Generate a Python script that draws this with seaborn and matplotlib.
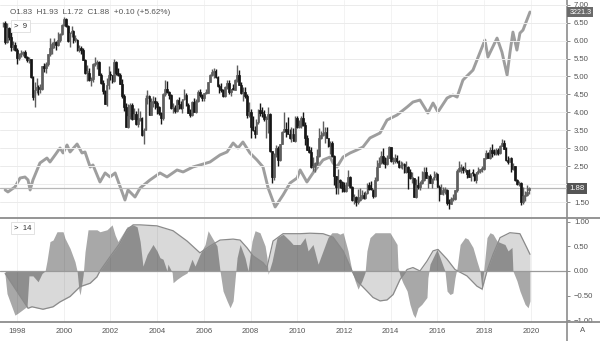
import numpy as np
import pandas as pd
import matplotlib
matplotlib.use("Agg")
import matplotlib.pyplot as plt
from matplotlib.lines import Line2D
import matplotlib.transforms as mtrans
import seaborn as sns

sns.set_style("white")
plt.rcParams["font.family"] = ["Liberation Sans", "DejaVu Sans"]

# ---------------- data ----------------
first_month = "1997-06-01"   # monthly candles, Jun 1997 .. Dec 2019

opens = [
    6.45, 6.50, 5.95, 6.34, 6.10, 5.83, 5.87,
    5.74, 5.51, 5.62, 5.65, 5.67, 5.55, 5.45, 5.49, 4.98, 4.42, 4.61, 4.71,
    4.65, 4.65, 5.29, 5.24, 5.35, 5.62, 5.78, 5.90, 5.97, 5.88, 6.02, 6.19,
    6.44, 6.60, 6.41, 6.00, 6.21, 6.27, 6.03, 6.03, 5.73, 5.80, 5.75, 5.47,
    5.11, 5.11, 4.90, 4.92, 5.34, 5.38, 5.41, 5.05, 4.83, 4.59, 4.23, 4.75,
    5.05, 5.03, 4.88, 5.40, 5.09, 5.04, 4.80, 4.46, 4.14, 3.60, 3.89, 4.21,
    3.82, 3.96, 3.69, 3.80, 3.84, 3.37, 3.52, 4.41, 4.46, 3.94, 4.29, 4.33,
    4.25, 4.14, 3.97, 3.84, 4.51, 4.65, 4.58, 4.48, 4.12, 4.12, 4.03, 4.35,
    4.22, 4.13, 4.36, 4.48, 4.20, 3.98, 3.92, 4.28, 4.02, 4.32, 4.56, 4.49,
    4.39, 4.53, 4.55, 4.85, 5.05, 5.12, 5.14, 4.98, 4.73, 4.63, 4.61, 4.46,
    4.70, 4.83, 4.56, 4.64, 4.62, 4.89, 5.03, 4.77, 4.53, 4.58, 4.47, 3.94,
    4.02, 3.59, 3.51, 3.41, 3.73, 4.06, 3.98, 3.95, 3.82, 3.82, 3.95, 2.92,
    2.21, 2.84, 3.00, 2.67, 3.12, 3.46, 3.53, 3.47, 3.40, 3.30, 3.39, 3.20,
    3.84, 3.59, 3.61, 3.83, 3.66, 3.29, 2.95, 2.91, 2.47, 2.51, 2.60, 2.79,
    3.29, 3.37, 3.42, 3.45, 3.29, 3.05, 3.16, 2.79, 2.22, 1.92, 2.11, 2.07,
    1.88, 1.80, 1.97, 2.21, 1.91, 1.56, 1.65, 1.49, 1.55, 1.63, 1.69, 1.61,
    1.76, 1.99, 1.87, 1.85, 1.67, 2.13, 2.49, 2.58, 2.78, 2.61, 2.55, 2.74,
    3.03, 2.64, 2.65, 2.72, 2.65, 2.47, 2.53, 2.56, 2.34, 2.49, 2.34, 2.16,
    2.17, 1.64, 1.99, 1.92, 2.03, 2.12, 2.35, 2.18, 2.22, 2.04, 2.14, 2.21,
    2.27, 1.92, 1.73, 1.77, 1.83, 1.85, 1.47, 1.46, 1.58, 1.59, 1.83, 2.37,
    2.44, 2.45, 2.39, 2.39, 2.28, 2.20, 2.30, 2.29, 2.12, 2.33, 2.38, 2.41,
    2.41, 2.72, 2.86, 2.74, 2.95, 2.86, 2.85, 2.96, 2.86, 3.06, 3.14, 2.99,
    2.68, 2.63, 2.72, 2.41, 2.50, 2.13, 2.00, 2.02, 1.50, 1.66, 1.69, 1.83,
]
highs = [
    6.52, 6.55, 6.50, 6.38, 6.23, 5.98, 5.95,
    5.80, 5.65, 5.73, 5.72, 5.73, 5.58, 5.55, 5.50, 5.00, 4.85, 4.97, 4.76,
    4.78, 5.30, 5.37, 5.40, 5.63, 6.06, 5.97, 6.08, 6.00, 6.23, 6.20, 6.45,
    6.66, 6.62, 6.43, 6.25, 6.40, 6.30, 6.15, 6.05, 5.88, 5.85, 5.80, 5.50,
    5.32, 5.23, 4.98, 5.37, 5.53, 5.45, 5.43, 5.10, 4.90, 4.63, 4.97, 5.28,
    5.16, 5.05, 5.48, 5.42, 5.25, 5.09, 4.92, 4.50, 4.25, 4.24, 4.25, 4.25,
    4.12, 4.03, 4.13, 4.04, 3.88, 3.56, 4.49, 4.61, 4.48, 4.40, 4.45, 4.44,
    4.33, 4.18, 4.00, 4.55, 4.90, 4.87, 4.60, 4.50, 4.25, 4.20, 4.38, 4.44,
    4.32, 4.38, 4.64, 4.53, 4.26, 4.10, 4.31, 4.40, 4.36, 4.62, 4.66, 4.52,
    4.54, 4.66, 4.86, 5.08, 5.20, 5.24, 5.20, 5.00, 4.80, 4.82, 4.64, 4.73,
    4.90, 4.90, 4.66, 4.78, 4.94, 5.32, 5.19, 4.85, 4.70, 4.70, 4.50, 4.29,
    4.10, 3.89, 3.62, 3.82, 4.09, 4.27, 4.16, 4.07, 3.90, 4.14, 3.98, 2.93,
    2.87, 3.10, 3.06, 3.12, 3.47, 4.00, 3.72, 3.86, 3.54, 3.60, 3.56, 3.91,
    3.90, 3.80, 3.90, 4.01, 3.72, 3.36, 3.06, 3.03, 2.75, 2.62, 2.97, 3.56,
    3.48, 3.77, 3.60, 3.59, 3.30, 3.19, 3.20, 2.82, 2.24, 2.42, 2.15, 2.10,
    2.05, 2.07, 2.40, 2.22, 1.95, 1.72, 1.66, 1.86, 1.89, 1.84, 1.77, 1.82,
    2.04, 2.06, 2.08, 1.87, 2.20, 2.66, 2.75, 2.93, 3.00, 2.75, 2.81, 3.05,
    3.03, 2.77, 2.83, 2.80, 2.67, 2.65, 2.61, 2.58, 2.65, 2.51, 2.41, 2.33,
    2.17, 2.15, 2.24, 2.08, 2.36, 2.49, 2.48, 2.25, 2.29, 2.17, 2.37, 2.33,
    2.30, 1.99, 2.00, 1.93, 1.91, 1.87, 1.59, 1.63, 1.74, 1.85, 2.42, 2.64,
    2.55, 2.52, 2.63, 2.40, 2.42, 2.31, 2.41, 2.32, 2.35, 2.48, 2.42, 2.50,
    2.73, 2.96, 2.91, 3.03, 3.13, 2.98, 3.00, 3.00, 3.09, 3.26, 3.24, 3.03,
    2.79, 2.73, 2.76, 2.60, 2.52, 2.14, 2.10, 2.05, 1.91, 1.80, 1.97, 1.93,
]
lows = [
    6.38, 5.90, 5.94, 6.03, 5.72, 5.75, 5.71,
    5.35, 5.45, 5.53, 5.56, 5.51, 5.40, 5.38, 4.95, 4.35, 4.16, 4.55, 4.48,
    4.55, 4.63, 5.12, 5.10, 5.30, 5.58, 5.63, 5.80, 5.75, 5.85, 5.96, 6.16,
    6.40, 6.38, 5.95, 5.81, 6.10, 5.93, 5.95, 5.72, 5.68, 5.62, 5.45, 5.08,
    4.88, 4.88, 4.74, 4.85, 5.28, 5.20, 5.03, 4.80, 4.50, 4.22, 4.19, 4.65,
    4.90, 4.82, 4.86, 5.05, 5.00, 4.78, 4.39, 4.03, 3.59, 3.57, 3.81, 3.80,
    3.81, 3.66, 3.59, 3.75, 3.33, 3.11, 3.50, 4.22, 3.92, 3.93, 4.15, 4.09,
    3.95, 3.94, 3.68, 3.80, 4.47, 4.55, 4.37, 4.10, 3.98, 3.99, 4.00, 4.10,
    4.10, 3.99, 4.34, 4.18, 3.97, 3.88, 3.90, 4.00, 3.97, 4.28, 4.42, 4.33,
    4.33, 4.50, 4.54, 4.84, 5.00, 4.97, 4.96, 4.72, 4.55, 4.58, 4.44, 4.42,
    4.65, 4.52, 4.45, 4.61, 4.61, 4.86, 4.75, 4.50, 4.33, 4.39, 3.85, 3.88,
    3.28, 3.49, 3.28, 3.40, 3.69, 3.91, 3.88, 3.75, 3.29, 3.43, 2.90, 2.04,
    2.11, 2.75, 2.51, 2.64, 3.11, 3.44, 3.32, 3.39, 3.25, 3.17, 3.19, 3.17,
    3.56, 3.56, 3.57, 3.62, 3.09, 2.94, 2.87, 2.46, 2.38, 2.33, 2.53, 2.75,
    3.26, 3.35, 3.16, 3.28, 3.03, 2.84, 2.77, 1.98, 1.72, 1.72, 1.90, 1.78,
    1.79, 1.78, 1.95, 1.90, 1.54, 1.44, 1.38, 1.46, 1.52, 1.60, 1.58, 1.58,
    1.74, 1.84, 1.84, 1.62, 1.63, 2.08, 2.47, 2.55, 2.57, 2.46, 2.54, 2.73,
    2.63, 2.57, 2.58, 2.58, 2.44, 2.44, 2.43, 2.32, 2.31, 1.87, 2.15, 2.03,
    1.63, 1.62, 1.87, 1.85, 2.00, 2.08, 2.17, 1.90, 2.02, 1.90, 2.13, 2.11,
    1.91, 1.53, 1.72, 1.69, 1.72, 1.41, 1.32, 1.44, 1.53, 1.57, 1.77, 2.35,
    2.31, 2.31, 2.34, 2.17, 2.19, 2.10, 2.24, 2.09, 2.03, 2.29, 2.31, 2.34,
    2.40, 2.71, 2.72, 2.71, 2.76, 2.82, 2.82, 2.81, 2.84, 3.05, 2.97, 2.64,
    2.55, 2.61, 2.34, 2.39, 2.10, 1.97, 1.94, 1.43, 1.46, 1.52, 1.66, 1.72,
]
closes = [
    6.50, 5.95, 6.34, 6.10, 5.83, 5.87, 5.74,
    5.51, 5.62, 5.65, 5.67, 5.55, 5.45, 5.49, 4.98, 4.42, 4.61, 4.71, 4.65,
    4.65, 5.29, 5.24, 5.35, 5.62, 5.78, 5.90, 5.97, 5.88, 6.02, 6.19, 6.44,
    6.60, 6.41, 6.00, 6.21, 6.27, 6.03, 6.03, 5.73, 5.80, 5.75, 5.47, 5.11,
    5.11, 4.90, 4.92, 5.34, 5.38, 5.41, 5.05, 4.83, 4.59, 4.23, 4.75, 5.05,
    5.03, 4.88, 5.40, 5.09, 5.04, 4.80, 4.46, 4.14, 3.60, 3.89, 4.21, 3.82,
    3.96, 3.69, 3.80, 3.84, 3.37, 3.52, 4.41, 4.46, 3.94, 4.29, 4.33, 4.25,
    4.14, 3.97, 3.84, 4.51, 4.65, 4.58, 4.48, 4.12, 4.12, 4.03, 4.35, 4.22,
    4.13, 4.36, 4.48, 4.20, 3.98, 3.92, 4.28, 4.02, 4.32, 4.56, 4.49, 4.39,
    4.53, 4.55, 4.85, 5.05, 5.12, 5.14, 4.98, 4.73, 4.63, 4.61, 4.46, 4.70,
    4.83, 4.56, 4.64, 4.62, 4.89, 5.03, 4.77, 4.53, 4.58, 4.47, 3.94, 4.02,
    3.59, 3.51, 3.41, 3.73, 4.06, 3.98, 3.95, 3.82, 3.82, 3.95, 2.92, 2.21,
    2.84, 3.00, 2.67, 3.12, 3.46, 3.53, 3.47, 3.40, 3.30, 3.39, 3.20, 3.84,
    3.59, 3.61, 3.83, 3.66, 3.29, 2.95, 2.91, 2.47, 2.51, 2.60, 2.79, 3.29,
    3.37, 3.42, 3.45, 3.29, 3.05, 3.16, 2.79, 2.22, 1.92, 2.11, 2.07, 1.88,
    1.80, 1.97, 2.21, 1.91, 1.56, 1.65, 1.49, 1.55, 1.63, 1.69, 1.61, 1.76,
    1.99, 1.87, 1.85, 1.67, 2.13, 2.49, 2.58, 2.78, 2.61, 2.55, 2.74, 3.03,
    2.64, 2.65, 2.72, 2.65, 2.47, 2.53, 2.56, 2.34, 2.49, 2.34, 2.16, 2.17,
    1.64, 1.99, 1.92, 2.03, 2.12, 2.35, 2.18, 2.22, 2.04, 2.14, 2.21, 2.27,
    1.92, 1.73, 1.77, 1.83, 1.85, 1.47, 1.46, 1.58, 1.59, 1.83, 2.37, 2.44,
    2.45, 2.39, 2.39, 2.28, 2.20, 2.30, 2.29, 2.12, 2.33, 2.38, 2.41, 2.41,
    2.72, 2.86, 2.74, 2.95, 2.86, 2.85, 2.96, 2.86, 3.06, 3.14, 2.99, 2.68,
    2.63, 2.72, 2.41, 2.50, 2.13, 2.00, 2.02, 1.50, 1.66, 1.69, 1.78, 1.88,
]

# S&P 500 overlay (own scale)
sp_dates = [
    1997.49, 1997.61, 1997.91, 1998.13, 1998.34, 1998.47, 1998.56, 1998.68, 1998.98, 1999.28,
    1999.41, 1999.63, 1999.84, 1999.97, 2000.14, 2000.27, 2000.57, 2000.78, 2000.91, 2001.13,
    2001.25, 2001.55, 2001.77, 2001.98, 2002.20, 2002.62, 2002.75, 2003.05, 2003.27, 2003.69,
    2004.12, 2004.42, 2004.85, 2005.11, 2005.53, 2005.83, 2006.26, 2006.69, 2006.99, 2007.25,
    2007.46, 2007.67, 2007.97, 2008.27, 2008.53, 2008.75, 2009.05, 2009.39, 2009.69, 2009.99,
    2010.12, 2010.41, 2010.67, 2011.10, 2011.40, 2011.53, 2011.70, 2011.96, 2012.26, 2012.55,
    2012.81, 2013.11, 2013.54, 2013.84, 2014.27, 2014.70, 2014.95, 2015.25, 2015.59, 2015.81,
    2016.02, 2016.41, 2016.66, 2016.84, 2017.09, 2017.52, 2018.03, 2018.16, 2018.55, 2018.76,
    2018.98, 2019.10, 2019.23, 2019.40, 2019.53, 2019.66, 2019.96,
]
sp_values = [
    898, 872, 937, 1054, 1067, 1028, 898, 1028, 1250, 1315,
    1263, 1355, 1446, 1381, 1485, 1394, 1498, 1381, 1394, 1198,
    1224, 1002, 1120, 1068, 1120, 767, 898, 806, 924, 1028,
    1120, 1068, 1159, 1133, 1198, 1224, 1263, 1355, 1394, 1511,
    1446, 1524, 1381, 1290, 1198, 924, 676, 833, 989, 1054,
    1159, 1002, 1120, 1290, 1328, 1250, 1198, 1328, 1381, 1420,
    1459, 1577, 1642, 1811, 1877, 1981, 2046, 2072, 1903, 2033,
    1916, 2098, 2137, 2111, 2333, 2463, 2855, 2634, 2881, 2698,
    2398, 2685, 2959, 2724, 2946, 2985, 3221.3,
]

# correlation, short window (jagged)
corr_fast_dates = [
    1997.49, 1997.57, 1997.70, 1997.91, 1998.04, 1998.21, 1998.43, 1998.51, 1998.68, 1998.90,
    1999.07, 1999.20, 1999.28, 1999.41, 1999.54, 1999.71, 1999.97, 2000.05, 2000.27, 2000.48,
    2000.57, 2000.65, 2000.70, 2000.83, 2000.91, 2001.04, 2001.42, 2001.55, 2001.85, 2002.07,
    2002.20, 2002.32, 2002.49, 2002.71, 2002.97, 2003.14, 2003.27, 2003.39, 2003.57, 2003.82,
    2003.99, 2004.12, 2004.25, 2004.42, 2004.46, 2004.64, 2004.68, 2004.85, 2005.06, 2005.28,
    2005.49, 2005.62, 2005.83, 2006.05, 2006.18, 2006.35, 2006.56, 2006.69, 2006.82, 2006.99,
    2007.12, 2007.25, 2007.34, 2007.42, 2007.55, 2007.76, 2007.89, 2008.06, 2008.19, 2008.40,
    2008.62, 2008.70, 2008.75, 2008.92, 2009.13, 2009.39, 2009.69, 2009.82, 2010.12, 2010.33,
    2010.46, 2010.67, 2010.89, 2011.10, 2011.31, 2011.48, 2011.70, 2011.82, 2011.96, 2012.17,
    2012.34, 2012.47, 2012.60, 2012.77, 2012.90, 2012.98, 2013.11, 2013.33, 2013.97, 2014.27,
    2014.31, 2014.40, 2014.52, 2014.70, 2014.82, 2014.95, 2015.04, 2015.17, 2015.33, 2015.55,
    2015.59, 2015.68, 2015.81, 2015.98, 2016.11, 2016.24, 2016.32, 2016.41, 2016.54, 2016.66,
    2016.75, 2016.84, 2016.97, 2017.18, 2017.31, 2017.52, 2017.69, 2017.82, 2017.91, 2017.95,
    2018.12, 2018.25, 2018.38, 2018.55, 2018.68, 2018.89, 2019.02, 2019.19, 2019.23, 2019.40,
    2019.53, 2019.75, 2019.88, 2019.96,
]
corr_fast = [
    -0.10, -0.46, -0.63, -0.90, -0.86, -0.80, -0.72, -0.10, -0.10, -0.22,
    -0.05, 0.00, 0.20, 0.60, 0.63, 0.80, 0.80, 0.67, 0.46, 0.19,
    0.00, -0.39, -0.49, -0.08, 0.39, 0.84, 0.84, 0.80, 0.84, 0.94,
    0.73, 0.60, 0.73, 0.90, 0.94, 0.90, 0.60, 0.10, 0.34, 0.54,
    0.41, 0.27, 0.24, 0.00, 0.14, -0.03, -0.24, -0.17, -0.10, -0.04,
    0.24, 0.10, 0.34, 0.54, 0.82, 0.68, 0.51, 0.00, -0.41, -0.61,
    -0.75, -0.61, -0.14, 0.27, 0.54, 0.27, 0.00, 0.61, 0.82, 0.78,
    0.51, 0.27, -0.07, 0.20, 0.68, 0.75, 0.61, 0.54, 0.54, 0.68,
    0.41, 0.54, 0.14, 0.41, 0.68, 0.78, 0.78, 0.75, 0.78, 0.41,
    0.00, -0.20, -0.37, -0.20, -0.03, 0.41, 0.68, 0.78, 0.78, 0.54,
    0.07, -0.10, -0.24, -0.41, -0.68, -0.88, -0.95, -0.75, -0.68, -0.54,
    -0.14, 0.14, 0.27, 0.44, 0.27, 0.10, 0.00, -0.41, -0.48, -0.45,
    -0.14, 0.07, 0.54, 0.68, 0.65, 0.48, 0.20, 0.00, -0.41, -0.14,
    0.68, 0.78, 0.75, 0.61, 0.58, 0.54, 0.41, 0.48, 0.00, -0.20,
    -0.41, -0.68, -0.75, -0.61,
]

# correlation, long window (smooth, outlined)
corr_slow_dates = [
    1997.49, 1998.47, 1998.64, 1999.11, 1999.54, 1999.84, 2000.27, 2000.70, 2001.13, 2001.42,
    2001.55, 2001.98, 2002.41, 2002.71, 2002.97, 2003.27, 2003.99, 2004.68, 2005.28, 2005.83,
    2006.26, 2006.69, 2007.25, 2007.55, 2007.85, 2008.10, 2008.53, 2008.70, 2008.96, 2009.39,
    2010.12, 2010.54, 2011.10, 2011.53, 2011.96, 2012.34, 2012.55, 2012.98, 2013.24, 2013.54,
    2013.84, 2014.10, 2014.40, 2014.70, 2014.95, 2015.25, 2015.55, 2015.81, 2016.02, 2016.41,
    2016.75, 2017.26, 2017.69, 2017.91, 2018.12, 2018.38, 2018.68, 2019.10, 2019.53, 2019.83,
    2019.96,
]
corr_slow = [
    -0.05, -0.76, -0.73, -0.78, -0.73, -0.63, -0.52, -0.32, -0.25, -0.12,
    0.00, 0.29, 0.57, 0.84, 0.94, 0.94, 0.92, 0.82, 0.61, 0.37,
    0.51, 0.63, 0.65, 0.63, 0.47, 0.31, 0.17, 0.07, 0.61, 0.76,
    0.76, 0.77, 0.76, 0.69, 0.41, 0.00, -0.20, -0.41, -0.54, -0.61,
    -0.59, -0.48, -0.17, 0.03, 0.07, 0.00, 0.20, 0.41, 0.44, 0.24,
    0.03, -0.10, -0.31, -0.37, 0.00, 0.34, 0.68, 0.78, 0.76, 0.47,
    0.34,
]

yield_ticks = [1.5, 2.0, 2.5, 3.0, 3.5, 4.0, 4.5, 5.0, 5.5, 6.0, 6.5, 7.0]
hidden_yield_labels = [2.0]          # covered by the last-price marker in the reference
corr_ticks = [-1.0, -0.5, 0.0, 0.5, 1.0]
year_ticks = list(range(1998, 2021, 2))
header_text = "O1.83  H1.93  L1.72  C1.88  +0.10 (+5.62%)"
legend_top = ">  9"
legend_bottom = ">  14"
last_close = 1.88
last_sp = 3221.3

# ---------------- layout ----------------
W, H = 600, 341
fig = plt.figure(figsize=(W / 100, H / 100), dpi=100)
fig.patch.set_facecolor("white")
xr = 567 / W
ax = fig.add_axes([0, (H - 217) / H, xr, 217 / H])
axc = fig.add_axes([0, (H - 322) / H, xr, (322 - 218) / H])
ax2 = ax.twinx()
ax2.set_zorder(1)
ax.set_zorder(2)
ax.patch.set_visible(False)
ax2.patch.set_visible(False)

xlim = (1997.27, 2021.545)
txt = "#555555"
line_c = "#8c8c8c"
fs = 5.6

# ---------------- candles ----------------
d = pd.date_range(first_month, periods=len(closes), freq="MS")
t = np.asarray(d.year + (d.month - 1) / 12.0, dtype=float)
o = np.array(opens); c = np.array(closes)
hi = np.maximum(np.array(highs), np.maximum(o, c))
lo = np.minimum(np.array(lows), np.minimum(o, c))
up = c >= o
cols = np.where(up, "#5e5e5e", "#161616")
ax.vlines(t, lo, hi, colors=cols, lw=1.0, zorder=3)
body = np.where(np.abs(c - o) < 0.03, 0.03, c - o)
ax.bar(t, body, bottom=o, width=0.075, color=cols, edgecolor=cols, lw=0.5, zorder=4)
ax.axhline(last_close, color="#b8b8b8", lw=0.9, zorder=1)

ax.set_xlim(*xlim)
ax.set_ylim(1.086, 7.131)
ax.set_yticks(yield_ticks)
ax.set_yticklabels(["" if v in hidden_yield_labels else f"{v:.2f}" for v in yield_ticks])
ax.yaxis.tick_right()
ax.tick_params(axis="y", right=True, left=False, labelright=True, labelleft=False,
               length=2.5, width=0.7, color=line_c, labelsize=fs, labelcolor=txt, pad=2.5)
ax.set_xticks(year_ticks)
ax.tick_params(axis="x", length=0, labelbottom=False)
ax.grid(axis="y", color="#ebebeb", lw=0.7)
ax.grid(axis="x", color="#f3f3f3", lw=0.7)
ax.set_axisbelow(True)
for s in ax.spines.values():
    s.set_visible(False)

# ---------------- S&P line ----------------
sns.lineplot(x=sp_dates, y=sp_values, ax=ax2, color="#9e9e9e", lw=2.1, sort=False)
ax2.set_ylim(545, 3378)
ax2.set_xlim(*xlim)
ax2.set_yticks([])
ax2.set_ylabel("")
for s in ax2.spines.values():
    s.set_visible(False)

# price labels on the scale
tr_main = mtrans.blended_transform_factory(ax.transAxes, ax.transData)
tr_sp = mtrans.blended_transform_factory(ax.transAxes, ax2.transData)
ax.text(1.004, last_close, f"{last_close:.2f}", transform=tr_main, ha="left", va="center",
        fontsize=fs, color="white", clip_on=False, zorder=10,
        bbox=dict(boxstyle="square,pad=0.3", fc="#555555", ec="none"))
ax.text(1.004, last_sp, f"{last_sp:.1f}", transform=tr_sp, ha="left", va="center",
        fontsize=fs - 0.4, color="white", clip_on=False, zorder=10,
        bbox=dict(boxstyle="square,pad=0.25", fc="#6a6a6a", ec="none"))

# ---------------- correlation panel ----------------
axc.fill_between(corr_fast_dates, corr_fast, 0, color="black", alpha=0.34, lw=0, zorder=2)
axc.fill_between(corr_slow_dates, corr_slow, 0, color="black", alpha=0.15, lw=0, zorder=2)
sns.lineplot(x=corr_slow_dates, y=corr_slow, ax=axc, color="#8a8a8a", lw=0.9, sort=False, zorder=3)
axc.axhline(0, color="#9a9a9a", lw=0.9, zorder=3)
axc.set_xlim(*xlim)
axc.set_ylim(-1.04, 1.08)
axc.set_yticks(corr_ticks)
axc.set_yticklabels([f"{v:.2f}".replace("-", "\u2212") for v in corr_ticks])
axc.yaxis.tick_right()
axc.tick_params(axis="y", right=True, left=False, labelright=True, labelleft=False,
                length=2.5, width=0.7, color=line_c, labelsize=fs, labelcolor=txt, pad=2.5)
axc.set_xticks(year_ticks)
axc.set_xticklabels([str(y) for y in year_ticks])
axc.tick_params(axis="x", length=2, width=0.7, color=line_c, labelsize=fs, labelcolor=txt, pad=2.5)
axc.grid(axis="x", color="#f1f1f1", lw=0.7)
axc.set_axisbelow(True)
axc.set_ylabel("")
for s in axc.spines.values():
    s.set_visible(False)

# ---------------- frame lines & texts ----------------
fig.add_artist(Line2D([xr, xr], [0, 1], transform=fig.transFigure, color=line_c, lw=1.2))
fig.add_artist(Line2D([0, 1], [(H - 217.5) / H] * 2, transform=fig.transFigure, color=line_c, lw=1.3))
fig.add_artist(Line2D([0, 1], [(H - 322) / H] * 2, transform=fig.transFigure, color=line_c, lw=1.3))

fig.text(10 / W, 1 - 13 / H, header_text, fontsize=fs + 0.3, color=txt, ha="left", va="center")
fig.text(14 / W, 1 - 26 / H, legend_top, fontsize=fs, color="#333333", ha="left", va="center",
         bbox=dict(boxstyle="square,pad=0.35", fc="white", ec="#dddddd", lw=0.6))
fig.text(14 / W, 1 - 228 / H, legend_bottom, fontsize=fs, color="#333333", ha="left", va="center",
         bbox=dict(boxstyle="square,pad=0.35", fc="white", ec="#dddddd", lw=0.6))
fig.text(583 / W, 1 - 331 / H, "A", fontsize=fs, color=txt, ha="center", va="center")

fig.savefig("out.png", dpi=100, facecolor="white")
